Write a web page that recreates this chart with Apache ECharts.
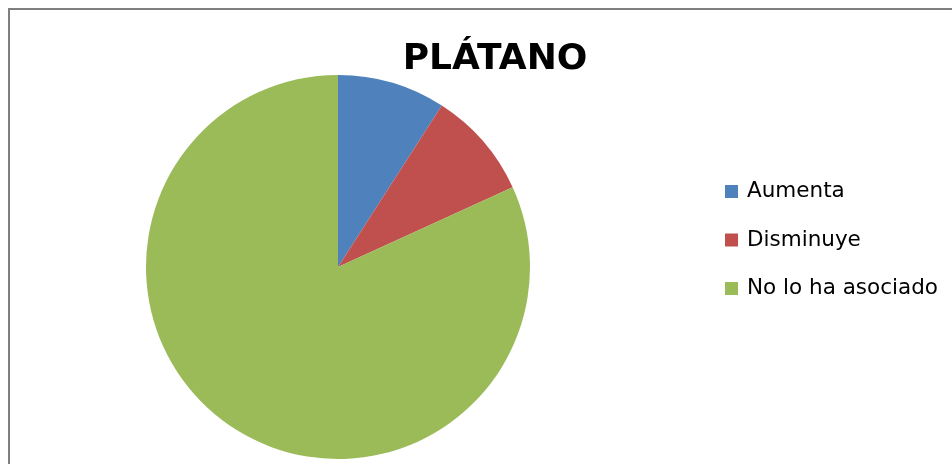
<!DOCTYPE html>
<html>
<head>
<meta charset="utf-8">
<script src="https://cdn.jsdelivr.net/npm/echarts@6/dist/echarts.min.js"></script>
<style>
  html, body { margin: 0; padding: 0; background: #fff; }
  #chart { width: 952px; height: 464px; }
</style>
</head>
<body>
<div id="chart"></div>
<script>
// Pie chart: PLÁTANO
const titleText = 'PLÁTANO';
const categories = ['Aumenta', 'Disminuye', 'No lo ha asociado'];
const values = [1, 1, 9];
const colors = ['#4F81BD', '#C0504D', '#9BBB59'];

const chart = echarts.init(document.getElementById('chart'));
chart.setOption({
  backgroundColor: '#fff',
  animation: false,
  color: colors,
  title: {
    text: titleText,
    left: 490,
    textAlign: 'center',
    top: 37,
    textStyle: {
      fontFamily: 'DejaVu Sans, sans-serif',
      fontWeight: 'bold',
      fontSize: 36,
      color: '#000'
    }
  },
  legend: {
    orient: 'vertical',
    left: 725,
    top: 180.5,
    padding: 0,
    itemWidth: 13,
    itemHeight: 13,
    itemGap: 26.5,
    icon: 'rect',
    textStyle: {
      fontFamily: 'DejaVu Sans, sans-serif',
      fontSize: 21.5,
      lineHeight: 22,
      color: '#000',
      padding: [0, 0, 0, 4]
    },
    data: categories
  },
  graphic: [{
    type: 'rect',
    shape: { x: 9, y: 9, width: 1000, height: 1000 },
    style: { fill: 'none', stroke: '#7f7f7f', lineWidth: 2 },
    silent: true
  }],
  series: [{
    type: 'pie',
    center: [338, 267],
    radius: 192,
    startAngle: 90,
    clockwise: true,
    label: { show: false },
    labelLine: { show: false },
    itemStyle: { borderWidth: 0 },
    emphasis: { disabled: true },
    data: categories.map((c, i) => ({ name: c, value: values[i] }))
  }]
});
</script>
</body>
</html>
